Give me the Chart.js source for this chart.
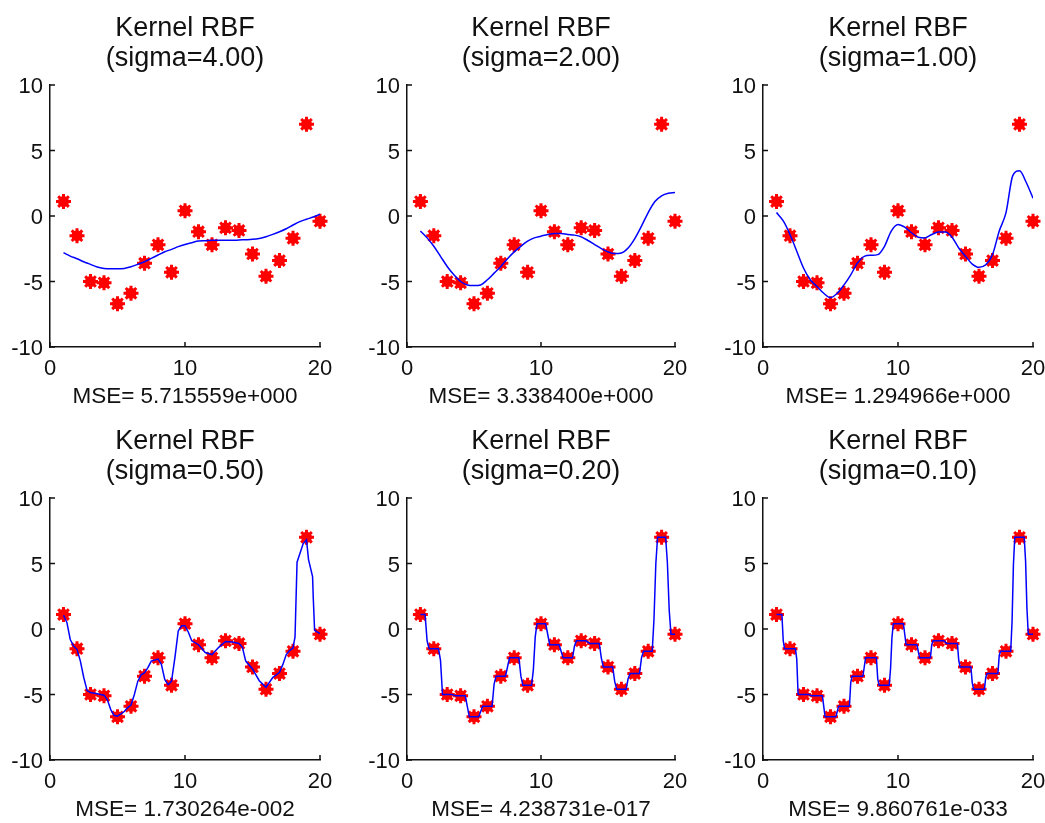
<!DOCTYPE html>
<html>
<head>
<meta charset="utf-8">
<script src="https://cdn.jsdelivr.net/npm/chart.js@4.4.1/dist/chart.umd.min.js"></script>
<style>
  html, body { margin: 0; padding: 0; background: #fff; overflow: hidden; }
  #wrap { position: relative; width: 1045px; height: 823px; overflow: hidden; }
  canvas { position: absolute; }
</style>
</head>
<body>
<div id="wrap"></div>
<script>
// sample points
var xData = [1,2,3,4,5,6,7,8,9,10,11,12,13,14,15,16,17,18,19,20];
var yData = [1.1,-1.5,-5.0,-5.1,-6.7,-5.9,-3.6,-2.2,-4.3,0.4,-1.2,-2.2,-0.9,-1.1,-2.9,-4.6,-3.4,-1.7,7.0,-0.4];

var xTicks = [0, 10, 20];
var yTicks = [-10, -5, 0, 5, 10];

var sigmaLabels = ['4.00', '2.00', '1.00', '0.50', '0.20', '0.10'];
var mseLabels = ['5.715559e+000', '3.338400e+000', '1.294966e+000', '1.730264e-002', '4.238731e-017', '9.860761e-033'];

// fitted curves
var halfGrid = [1,1.5,2,2.5,3,3.5,4,4.5,5,5.5,6,6.5,7,7.5,8,8.5,9,9.5,10,10.5,11,11.5,12,12.5,13,13.5,14,14.5,15,15.5,16,16.5,17,17.5,18,18.5,19,19.5,20];
var fit4Y = [-2.8,-3.06,-3.26,-3.49,-3.69,-3.9,-4.0,-4.03,-4.03,-4.0,-3.87,-3.69,-3.49,-3.24,-2.98,-2.73,-2.55,-2.34,-2.17,-2.04,-1.91,-1.89,-1.86,-1.86,-1.86,-1.86,-1.83,-1.81,-1.78,-1.71,-1.58,-1.4,-1.2,-0.97,-0.69,-0.43,-0.25,-0.08,0.13];
var fit2Y = [-1.15,-1.67,-2.31,-3.08,-3.85,-4.49,-5.0,-5.26,-5.31,-5.26,-4.87,-4.36,-3.85,-3.26,-2.74,-2.31,-1.92,-1.67,-1.54,-1.41,-1.33,-1.33,-1.41,-1.46,-1.59,-1.87,-2.18,-2.49,-2.74,-2.87,-2.82,-2.44,-1.72,-0.77,0.26,1.1,1.54,1.74,1.79];
var fit1Y = [0.26,-0.38,-1.41,-2.69,-3.97,-4.87,-5.38,-5.9,-6.23,-5.9,-5.26,-4.49,-3.59,-3.08,-3.0,-2.95,-2.31,-1.15,-0.64,-0.85,-1.28,-1.62,-1.67,-1.41,-1.23,-1.23,-1.62,-2.44,-3.08,-3.67,-3.92,-3.72,-2.95,-1.15,0.26,3.08,3.46,2.56,1.36];

var fit05X = [1,1.25,1.5,1.75,2,2.25,2.5,2.75,3,3.5,4,4.25,4.5,4.75,5,5.5,5.75,6,6.25,6.5,6.75,7,7.25,7.5,8,8.25,8.5,8.75,9,9.25,9.5,9.75,10,10.25,10.5,11,11.5,12,12.5,13,13.5,14,14.25,14.5,15,15.5,16,16.5,17,17.25,17.5,17.75,18,18.15,18.3,18.75,19,19.15,19.45,19.5,19.6,20];
var fit05Y = [1.05,0.5,-0.8,-1.3,-1.55,-2.45,-3.7,-4.7,-4.85,-4.95,-5.05,-5.4,-6.15,-6.6,-6.65,-6.3,-6.0,-5.8,-5.0,-4.0,-3.5,-3.35,-2.95,-2.45,-2.3,-2.7,-3.85,-4.25,-4.0,-2.2,-0.15,0.25,0.25,-0.25,-0.9,-1.2,-1.8,-1.95,-1.4,-0.95,-1.0,-1.1,-1.4,-2.45,-3.05,-3.95,-4.45,-3.7,-3.3,-2.7,-1.95,-1.65,-1.45,-0.6,5.1,6.5,6.8,5.3,4.0,2.4,-0.1,-0.35];

var fit02X = [1,1.35,1.5,1.65,2.35,2.5,2.65,3.35,3.5,3.65,4.35,4.5,4.65,5.35,5.5,5.65,6.35,6.5,6.65,7.35,7.5,7.65,8.35,8.5,8.65,9.3,9.43,9.57,9.7,10.35,10.5,10.65,11.35,11.5,11.65,12.35,12.5,12.65,13.35,13.5,13.65,14.35,14.5,14.65,15.35,15.5,15.65,16.35,16.5,16.65,17.35,17.5,17.65,18.3,18.43,18.57,18.7,19.3,19.43,19.57,19.7,20];
var fit02Y = [1.1,1.1,-0.9,-1.5,-1.5,-2.4,-5.0,-5.0,-5.05,-5.1,-5.1,-5.9,-6.7,-6.7,-6.3,-5.9,-5.9,-4.2,-3.6,-3.6,-2.9,-2.2,-2.2,-3.6,-4.3,-4.3,-3.1,-0.6,0.4,0.4,-0.4,-1.2,-1.2,-1.7,-2.2,-2.2,-1.3,-0.9,-0.9,-1.0,-1.1,-1.1,-2.2,-2.9,-2.9,-4.0,-4.6,-4.6,-3.8,-3.4,-3.4,-2.2,-1.7,-1.7,0.7,5.0,7.0,7.0,5.1,1.4,-0.4,-0.4];

var fit01X = [1,1.4,1.5,1.6,2.4,2.5,2.6,3.4,3.5,3.6,4.4,4.5,4.6,5.4,5.5,5.6,6.4,6.5,6.6,7.4,7.5,7.6,8.4,8.5,8.6,9.35,9.45,9.55,9.65,10.4,10.5,10.6,11.4,11.5,11.6,12.4,12.5,12.6,13.4,13.5,13.6,14.4,14.5,14.6,15.4,15.5,15.6,16.4,16.5,16.6,17.4,17.5,17.6,18.35,18.45,18.55,18.65,19.35,19.45,19.55,19.65,20];
var fit01Y = [1.1,1.1,-0.9,-1.5,-1.5,-2.3,-5.0,-5.0,-5.05,-5.1,-5.1,-5.9,-6.7,-6.7,-6.3,-5.9,-5.9,-4.1,-3.6,-3.6,-2.9,-2.2,-2.2,-3.8,-4.3,-4.3,-3.0,-0.7,0.4,0.4,-0.4,-1.2,-1.2,-1.7,-2.2,-2.2,-1.2,-0.9,-0.9,-1.0,-1.1,-1.1,-2.4,-2.9,-2.9,-4.1,-4.6,-4.6,-3.7,-3.4,-3.4,-2.0,-1.7,-1.7,0.6,4.9,7.0,7.0,5.2,1.6,-0.4,-0.4];

var fitsX = [halfGrid, halfGrid, halfGrid, fit05X, fit02X, fit01X];
var fitsY = [fit4Y, fit2Y, fit1Y, fit05Y, fit02Y, fit01Y];
var smooth = [true, true, true, false, false, false];

var FONT = 'Arial, "Liberation Sans", sans-serif';
var INK = '#111';

function pairs(xs, ys) {
	return xs.map(function (x, i) { return { x: x, y: ys[i] }; });
}

// MATLAB style ticks pointing into the plot
var innerTicks = {
	id: 'innerTicks',
	afterDraw: function (chart) {
		var ctx = chart.ctx, a = chart.chartArea;
		var xs = chart.scales.x, ys = chart.scales.y;
		ctx.save();
		ctx.strokeStyle = INK;
		ctx.lineWidth = 1.5;
		ctx.beginPath();
		yTicks.forEach(function (v) {
			var py = ys.getPixelForValue(v);
			ctx.moveTo(a.left, py);
			ctx.lineTo(a.left + 5, py);
		});
		xTicks.forEach(function (v) {
			var px = xs.getPixelForValue(v);
			ctx.moveTo(px, a.bottom);
			ctx.lineTo(px, a.bottom - 5);
		});
		ctx.stroke();
		ctx.restore();
	}
};

var lefts = [0, 357, 713];
var widths = [342, 340, 342];
var tops = [0, 413];
var wrap = document.getElementById('wrap');

for (var i = 0; i < 6; i++) {
	var w = widths[i % 3];
	var canvas = document.createElement('canvas');
	canvas.width = w;
	canvas.height = 409;
	canvas.style.left = lefts[i % 3] + 'px';
	canvas.style.top = tops[Math.floor(i / 3)] + 'px';
	canvas.style.width = w + 'px';
	canvas.style.height = '409px';
	wrap.appendChild(canvas);

	new Chart(canvas.getContext('2d'), {
		type: 'scatter',
		data: {
			datasets: [
				{
					type: 'line',
					data: pairs(fitsX[i], fitsY[i]),
					borderColor: '#0000ff',
					borderWidth: 1.5,
					pointRadius: 0,
					fill: false,
					tension: 0,
					cubicInterpolationMode: smooth[i] ? 'monotone' : 'default'
				},
				{
					// asterisk spokes
					data: pairs(xData, yData),
					pointStyle: 'star',
					pointRadius: 7.5,
					borderWidth: 3,
					borderColor: '#ff0000',
					backgroundColor: '#ff0000',
					clip: false
				},
				{
					// solid core of the thick asterisk
					data: pairs(xData, yData),
					pointStyle: 'circle',
					pointRadius: 5.5,
					borderWidth: 0,
					backgroundColor: '#ff0000',
					clip: false
				}
			]
		},
		options: {
			responsive: false,
			animation: false,
			events: [],
			layout: { padding: { left: 0, right: 22, top: 0, bottom: 0 } },
			plugins: {
				legend: { display: false },
				tooltip: { enabled: false },
				title: {
					display: true,
					fullSize: false,
					text: ['Kernel RBF', '(sigma=' + sigmaLabels[i] + ')'],
					color: INK,
					font: { family: FONT, size: 27, weight: 'normal', lineHeight: 30 / 27 },
					padding: { top: 14, bottom: 11 }
				}
			},
			scales: {
				x: {
					type: 'linear',
					min: 0,
					max: 20,
					afterBuildTicks: function (s) { s.ticks = xTicks.map(function (v) { return { value: v }; }); },
					afterFit: function (s) { s.height = 62; },
					grid: { display: false, drawTicks: false, tickLength: 0 },
					border: { display: true, color: INK, width: 1.5 },
					ticks: { color: INK, padding: 8.5, maxRotation: 0, autoSkip: false, font: { family: FONT, size: 22, lineHeight: 1.2 } },
					title: {
						display: true,
						text: 'MSE= ' + mseLabels[i],
						color: INK,
						font: { family: FONT, size: 22.5, lineHeight: 26 / 22.5 },
						padding: { top: 0, bottom: -1 }
					}
				},
				y: {
					type: 'linear',
					min: -10,
					max: 10,
					afterBuildTicks: function (s) { s.ticks = yTicks.map(function (v) { return { value: v }; }); },
					afterFit: function (s) { s.width = 50; },
					grid: { display: false, drawTicks: false, tickLength: 0 },
					border: { display: true, color: INK, width: 1.5 },
					ticks: { color: INK, padding: 7, labelOffset: 2, autoSkip: false, font: { family: FONT, size: 22 } }
				}
			}
		},
		plugins: [innerTicks]
	});
}
</script>
</body>
</html>
